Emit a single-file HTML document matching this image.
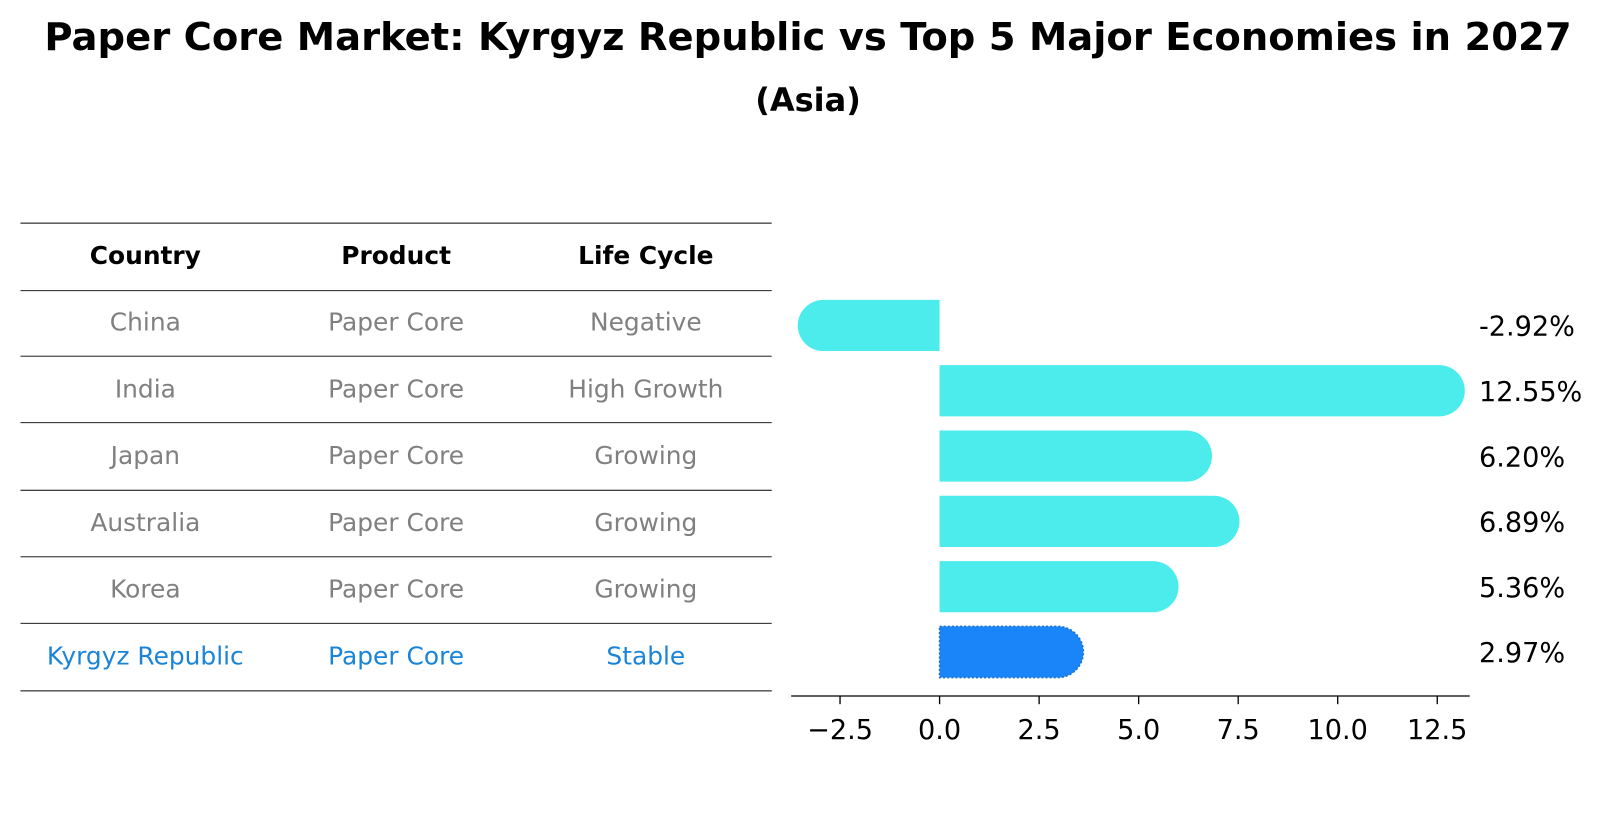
<!DOCTYPE html>
<html><head><meta charset="utf-8"><style>
body{margin:0;background:#fff;font-family:"DejaVu Sans","Liberation Sans",sans-serif;}
svg{display:block}
</style></head><body>
<svg id="chart" width="1604" height="823" xmlns="http://www.w3.org/2000/svg" font-family="DejaVu Sans, Liberation Sans, sans-serif">
<text x="808" y="50" text-anchor="middle" font-size="38.5" font-weight="bold">Paper Core Market: Kyrgyz Republic vs Top 5 Major Economies in 2027</text>
<text x="808" y="111" text-anchor="middle" font-size="32" font-weight="bold">(Asia)</text>
<g transform="scale(1.0235)">
<g id="table"></g>
<g id="bars"></g>
<g id="axis"></g>
</g>
</svg>
<script>
const countries=["China","India","Japan","Australia","Korea","Kyrgyz Republic"];
const products=["Paper Core","Paper Core","Paper Core","Paper Core","Paper Core","Paper Core"];
const lifeCycles=["Negative","High Growth","Growing","Growing","Growing","Stable"];
const values=[-2.92,12.55,6.20,6.89,5.36,2.97];
const ticks=[-2.5,0,2.5,5,7.5,10,12.5];
const NS="http://www.w3.org/2000/svg";
function mk(tag,attrs,parent){const e=document.createElementNS(NS,tag);for(const k in attrs)e.setAttribute(k,attrs[k]);parent.appendChild(e);return e;}
const x=v=>918+v*38.9;
const yc=i=>318+i*63.8;
// table
const tbl=document.getElementById('table');
const lineYs=[218,284,348,413,479,544,609,675];
lineYs.forEach(y=>{const l=mk('line',{x1:20,x2:754,y1:y,y2:y,stroke:'#000','stroke-width':0.9},tbl);

});
const cols=[142,387,631];
["Country","Product","Life Cycle"].forEach((h,j)=>{const t=mk('text',{x:cols[j],y:258,'text-anchor':'middle','font-size':17*1.43,'font-weight':'bold'},tbl);t.textContent=h;

});
countries.forEach((c,i)=>{const last=i===countries.length-1;const fill=last?'#1a85d8':'#808080';
[c,products[i],lifeCycles[i]].forEach((s,j)=>{const t=mk('text',{x:cols[j],y:323+i*65.2,'text-anchor':'middle','font-size':17*1.43,fill:fill},tbl);t.textContent=s;

});});
// bars
const bg=document.getElementById('bars');
const h=50,r=25;
values.forEach((v,i)=>{const last=i===values.length-1;const col=last?'#1a85f8':'#4cecec';
const y0=yc(i)-h/2,x0=x(0),x1=x(v);let d;
if(v>=0)d=`M${x0},${y0}H${x1}A${r},${r} 0 0 1 ${x1},${y0+h}H${x0}Z`;
else d=`M${x0},${y0}H${x1}A${r},${r} 0 0 0 ${x1},${y0+h}H${x0}Z`;
const p=mk('path',{d:d,fill:col},bg);
if(last){p.setAttribute('stroke','#1a6fd0');p.setAttribute('stroke-width','1.5');p.setAttribute('stroke-dasharray','2,2');}


const t=mk('text',{x:1445,y:yc(i)+10,'font-size':26.5},bg);t.textContent=v.toFixed(2)+'%';

});
// axis
const ax=document.getElementById('axis');
const al=mk('line',{x1:773,x2:1436,y1:680,y2:680,stroke:'#000','stroke-width':1.3},ax);


ticks.forEach(v=>{const tl=mk('line',{x1:x(v),x2:x(v),y1:680,y2:688,stroke:'#000','stroke-width':1.3},ax);


const t=mk('text',{x:x(v),y:722,'text-anchor':'middle','font-size':26.5},ax);t.textContent=(v<0?'\u2212':'')+Math.abs(v).toFixed(1);

});
</script>
</body></html>
